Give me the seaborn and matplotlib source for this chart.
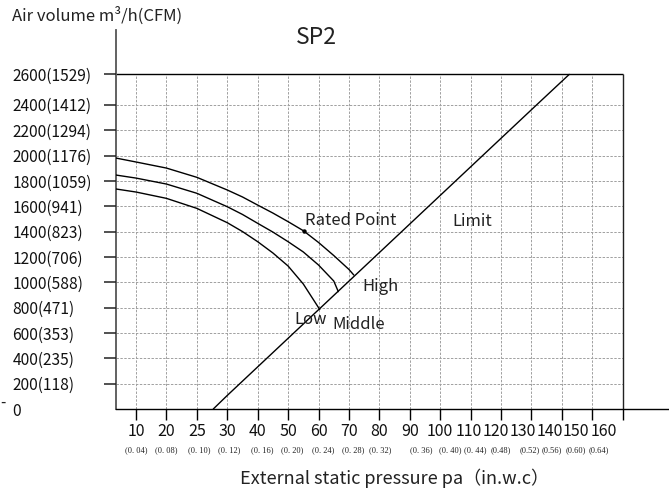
import numpy as np
import pandas as pd
import matplotlib
matplotlib.use("Agg")
import matplotlib.pyplot as plt
import matplotlib.transforms as mtransforms
import seaborn as sns

# ---------------------------------------------------------------------------
# data
# ---------------------------------------------------------------------------
air_ticks = [200, 400, 600, 800, 1000, 1200, 1400, 1600, 1800, 2000, 2200, 2400, 2600]
air_labels = ["200(118)", "400(235)", "600(353)", "800(471)", "1000(588)", "1200(706)",
              "1400(823)", "1600(941)", "1800(1059)", "2000(1176)", "2200(1294)",
              "2400(1412)", "2600(1529)"]

pa_ticks = [10, 20, 25, 30, 40, 50, 60, 70, 80, 90, 100, 110, 120, 130, 140, 150, 160]
inwc_labels = ["(0. 04)", "(0. 08)", "(0. 10)", "(0. 12)", "(0. 16)", "(0. 20)", "(0. 24)",
               "(0. 28)", "(0. 32)", "(0. 36)", "(0. 40)", "(0. 44)", "(0.48)", "(0.52)",
               "(0.56)", "(0.60)", "(0.64)"]

high_pa = [3.4, 10, 20, 25, 30, 35, 40, 45, 50, 55, 60, 65, 70, 71.6]
high_air = [1980, 1949, 1901, 1828, 1728, 1673, 1609, 1546, 1478, 1407, 1314, 1211, 1101, 1057]

mid_pa = [3.4, 10, 20, 25, 30, 35, 40, 45, 50, 55, 60, 65, 66.5]
mid_air = [1846, 1822, 1775, 1702, 1596, 1535, 1465, 1396, 1320, 1239, 1136, 1010, 926]

low_pa = [3.4, 10, 20, 25, 30, 35, 40, 45, 50, 55, 60.4]
low_air = [1736, 1712, 1662, 1583, 1470, 1400, 1320, 1231, 1128, 986, 785]

limit_pa = [27.7, 30, 131.7, 142.4]
limit_air = [0, 107, 2400, 2600]

rated_pa, rated_air = 55.1, 1407

# label nudges (pixels) where the printed tick text drifts off its tick
big_dx = [0, 0, 0, 0, 0, 0, 0, 0, 0, 0, 0, -2, -5, -9, -12, -16, -19]
small_dx = [0, 0, 2, 2, 5, 4, 5, 4, 1, 11, 10, 5, 0, -2, -10, -17, -24]

curves = pd.concat([
    pd.DataFrame({"pa": high_pa, "air": high_air, "speed": "High"}),
    pd.DataFrame({"pa": mid_pa, "air": mid_air, "speed": "Middle"}),
    pd.DataFrame({"pa": low_pa, "air": low_air, "speed": "Low"}),
])


# the printed axes are not linear: 10-20-25-30-40... sit at equal spacing,
# and the 2600 line is drawn a bit higher than the rest
def pa_fwd(p):
    p = np.asarray(p, dtype=float)
    return np.where(p >= 30, 4 + (p - 30) / 10,
           np.where(p >= 25, 3 + (p - 25) / 5,
           np.where(p >= 20, 2 + (p - 20) / 5, p / 10)))


def pa_inv(u):
    u = np.asarray(u, dtype=float)
    return np.where(u >= 4, 30 + (u - 4) * 10,
           np.where(u >= 3, 25 + (u - 3) * 5,
           np.where(u >= 2, 20 + (u - 2) * 5, u * 10)))


def air_fwd(v):
    v = np.asarray(v, dtype=float)
    return np.where(v <= 2400, v, 2400 + (v - 2400) * 1.2)


def air_inv(u):
    u = np.asarray(u, dtype=float)
    return np.where(u <= 2400, u, 2400 + (u - 2400) / 1.2)


sns.set_style("ticks")
plt.rcParams["font.family"] = ["Noto Sans CJK SC", "DejaVu Sans"]

fig = plt.figure(figsize=(6.69, 4.96), dpi=100)
ax = fig.add_axes([116 / 669, 87 / 496, 553 / 669, 379 / 496])
ax.set_xscale("function", functions=(pa_fwd, pa_inv))
ax.set_yscale("function", functions=(air_fwd, air_inv))
x0, x1 = 3.425, 175.2
ax.set_xlim(x0, x1)
ax.set_ylim(0, 2892)

grid_kw = dict(colors="#a0a0a0", linestyles=(0, (2.5, 1.5)), linewidth=0.7, zorder=1)
ax.vlines(pa_ticks[:-1], 0, 2600, **grid_kw)
ax.hlines(air_ticks[:-1], x0, 160, **grid_kw)
ax.hlines(2600, x0, 160, colors="black", linewidth=1.0, zorder=2)
ax.vlines(160, 0, 2600, colors="#222222", linewidth=1.0, zorder=2)

sns.lineplot(data=curves, x="pa", y="air", hue="speed", units="speed", estimator=None,
             sort=False, palette={"High": "black", "Middle": "black", "Low": "black"},
             linewidth=1.0, legend=False, ax=ax, zorder=3)
sns.lineplot(x=limit_pa, y=limit_air, color="black", linewidth=1.0, sort=False,
             estimator=None, ax=ax, zorder=3)
ax.plot([rated_pa], [rated_air], "o", color="black", markersize=2.2, zorder=4)

# y tick marks sticking out ~12 px left of the axis (axes-fraction x, data y)
ytick_tr = mtransforms.blended_transform_factory(ax.transAxes, ax.transData)
ax.hlines(air_ticks, -12 / 553, 0, transform=ytick_tr, colors="#222222",
          linewidth=1.1, clip_on=False, zorder=5)

for side in ("top", "right"):
    ax.spines[side].set_visible(False)
ax.spines["left"].set_color("#555555")
ax.spines["left"].set_linewidth(1.3)
ax.spines["bottom"].set_color("black")
ax.spines["bottom"].set_linewidth(1.0)

# y tick labels left aligned at the figure edge
ax.set_yticks([0] + air_ticks)
ax.set_yticklabels(["0"] + air_labels, fontsize=11.2, color="#111111")
ax.tick_params(axis="y", which="major", length=0, pad=65.5 + 9)
for lbl in ax.get_yticklabels():
    lbl.set_horizontalalignment("left")
ax.set_ylabel("")

# x ticks: pa on the axis, in.w.c as a small second row
ax.set_xticks(pa_ticks)
ax.set_xticklabels([str(p) for p in pa_ticks], fontsize=11.5, color="#111111")
ax.tick_params(axis="x", bottom=True, direction="out", length=8, width=1.0,
               color="black", pad=2.0)
for lbl, dx in zip(ax.get_xticklabels(), big_dx):
    lbl.set_transform(lbl.get_transform() + mtransforms.ScaledTranslation(dx / 100, 0, fig.dpi_scale_trans))
ax.set_xlabel("")

base = mtransforms.blended_transform_factory(ax.transData, ax.transAxes)
for p, lab, dx in zip(pa_ticks, inwc_labels, small_dx):
    tr = mtransforms.offset_copy(base, fig=fig, x=dx, y=-41, units="dots")
    ax.text(p, 0, lab, transform=tr, ha="center", va="center", fontsize=6,
            family=["Liberation Serif", "DejaVu Serif"], color="#222222")

# annotations
note_kw = dict(fontsize=12, color="#222222", ha="left", va="center")
ax.text(55.4, 1484, "Rated Point", **note_kw)
ax.text(74.5, 963, "High", **note_kw)
ax.text(64.6, 663, "Middle", **note_kw)
ax.text(52.1, 710, "Low", **note_kw)
ax.text(104, 1476, "Limit", **note_kw)

fig.text(12 / 669, 1 - 15.5 / 496, "Air volume m³/h(CFM)", fontsize=12, color="#222222",
         ha="left", va="center")
fig.text(316 / 669, 1 - 37 / 496, "SP2", fontsize=16.5, color="#222222", ha="center", va="center")
fig.text(395 / 669, 1 - 478 / 496, "External static pressure pa（in.w.c）", fontsize=13,
         color="#222222", ha="center", va="center")
fig.text(0.0, 1 - 402 / 496, "-", fontsize=11, color="#222222", ha="left", va="center")

fig.savefig("out.png", dpi=100)
